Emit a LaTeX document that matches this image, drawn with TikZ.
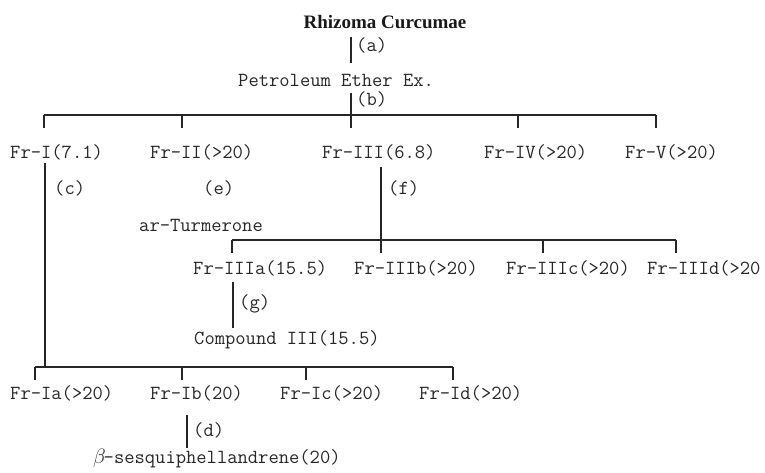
\documentclass[tikz,border=0pt]{standalone}
\usepackage{fontspec}
\setmainfont{Liberation Serif}
\begin{document}
\begin{tikzpicture}[x=1pt,y=-1pt,
  txt/.style={inner sep=0pt, anchor=west, font=\ttfamily\fontsize{20}{22}\selectfont, text=black!85},
  ttl/.style={inner sep=0pt, font=\bfseries\fontsize{19}{22}\selectfont, text=black!90},
  ln/.style={line width=1.2pt, draw=black!85}]
\useasboundingbox (0,0) rectangle (765,472);

% ---- texts ----
\node[ttl] (root) at (385,22) {Rhizoma Curcumae};
\node[txt] (la) at (356,45) {(a)};
\node[txt] (pet) at (238,80) {Petroleum Ether Ex.};
\node[txt] (lb) at (356,99) {(b)};

\node[txt] (fr1) at (10,152) {Fr-I(7.1)};
\node[txt] (fr2) at (150,152) {Fr-II(>20)};
\node[txt] (fr3) at (322,152) {Fr-III(6.8)};
\node[txt] (fr4) at (484,152) {Fr-IV(>20)};
\node[txt] (fr5) at (625,152) {Fr-V(>20)};

\node[txt] (lc) at (54,188) {(c)};
\node[txt] (le) at (203,188) {(e)};
\node[txt] (lf) at (388,188) {(f)};
\node[txt] (turm) at (139,225) {ar-Turmerone};

\node[txt] (fr3a) at (193,268) {Fr-IIIa(15.5)};
\node[txt] (fr3b) at (354,268) {Fr-IIIb(>20)};
\node[txt] (fr3c) at (506,268) {Fr-IIIc(>20)};
\node[txt] (fr3d) at (647,268) {Fr-IIId(>20};

\node[txt] (lg) at (239,304) {(g)};
\node[txt] (comp) at (194,340) {Compound III(15.5)};

\node[txt] (fr1a) at (10,393) {Fr-Ia(>20)};
\node[txt] (fr1b) at (150,393) {Fr-Ib(20)};
\node[txt] (fr1c) at (280,393) {Fr-Ic(>20)};
\node[txt] (fr1d) at (419,393) {Fr-Id(>20)};

\node[txt] (ld) at (193,430) {(d)};
\node[txt] (beta) at (93,459) {\makebox[10.5pt][l]{$\beta$}-sesquiphellandrene(20)};

% ---- connector points ----
\coordinate (a1) at (351,37);  \coordinate (a2) at (351,63);
\coordinate (b1) at (351,93);  \coordinate (b2) at (351,128);
\coordinate (bus1L) at (44,115); \coordinate (bus1R) at (656,115);
\coordinate (c1) at (45,163);  \coordinate (c2) at (45,367);
\coordinate (f1) at (381,167); \coordinate (f2) at (381,253);
\coordinate (bus2L) at (232,240); \coordinate (bus2R) at (676,240);
\coordinate (g1) at (233,282); \coordinate (g2) at (233,328);
\coordinate (bus3L) at (35,367); \coordinate (bus3R) at (453,367);
\coordinate (d1) at (187,415); \coordinate (d2) at (187,448);

% ---- lines ----
\draw[ln] (a1) -- (a2);
\draw[ln] (b1) -- (b2);
\draw[ln] (bus1L) -- (bus1R);
\foreach \x/\n in {44/p1,182/p2,518/p4,656/p5}{
  \coordinate (\n u) at (\x,115); \coordinate (\n d) at (\x,128);
  \draw[ln] (\n u) -- (\n d);}
\draw[ln] (c1) -- (c2);
\draw[ln] (f1) -- (f2);
\draw[ln] (bus2L) -- (bus2R);
\foreach \x/\n in {232/q1,543/q3,676/q4}{
  \coordinate (\n u) at (\x,240); \coordinate (\n d) at (\x,253);
  \draw[ln] (\n u) -- (\n d);}
\draw[ln] (g1) -- (g2);
\draw[ln] (bus3L) -- (bus3R);
\foreach \x/\n in {35/r1,182/r2,306/r3,453/r4}{
  \coordinate (\n u) at (\x,367); \coordinate (\n d) at (\x,380);
  \draw[ln] (\n u) -- (\n d);}
\draw[ln] (d1) -- (d2);
\end{tikzpicture}
\end{document}
